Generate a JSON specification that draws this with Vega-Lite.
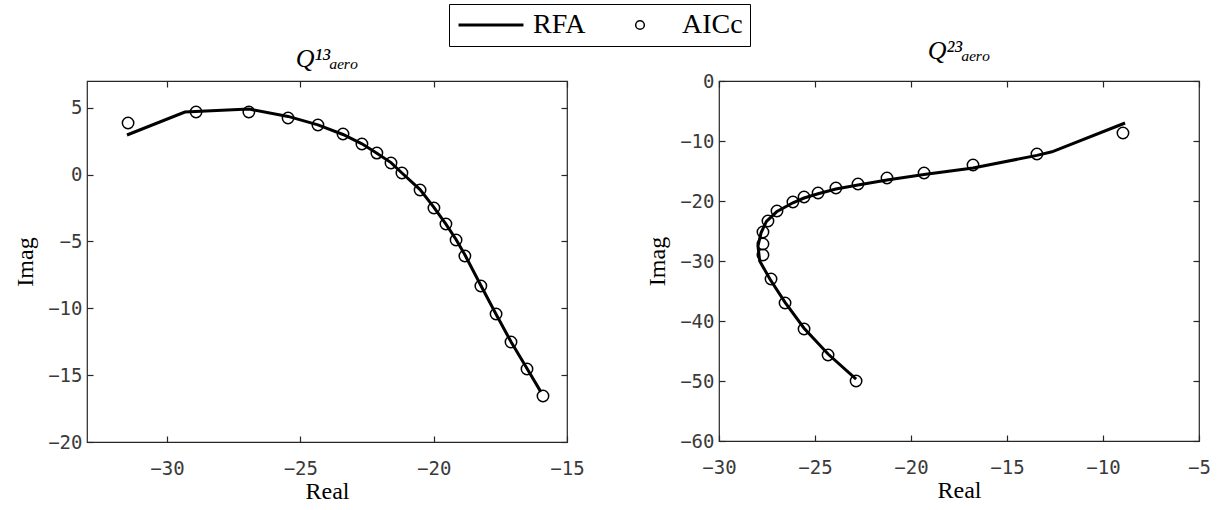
{
  "$schema": "https://vega.github.io/schema/vega-lite/v6.json",
  "background": "white",
  "padding": {"left": 13, "top": 3, "right": 0, "bottom": 0},
  "spacing": 152,
  "bounds": "flush",
  "data": {"values": [
    {"panel": "L", "kind": "RFA", "i": 1, "re": -31.5, "im": 2.96},
    {"panel": "L", "kind": "RFA", "i": 2, "re": -29.33, "im": 4.68},
    {"panel": "L", "kind": "RFA", "i": 3, "re": -26.93, "im": 4.9},
    {"panel": "L", "kind": "RFA", "i": 4, "re": -25.46, "im": 4.35},
    {"panel": "L", "kind": "RFA", "i": 5, "re": -24.34, "im": 3.72},
    {"panel": "L", "kind": "RFA", "i": 6, "re": -23.4, "im": 3.0},
    {"panel": "L", "kind": "RFA", "i": 7, "re": -22.69, "im": 2.3},
    {"panel": "L", "kind": "RFA", "i": 8, "re": -22.13, "im": 1.6},
    {"panel": "L", "kind": "RFA", "i": 9, "re": -21.6, "im": 0.9},
    {"panel": "L", "kind": "RFA", "i": 10, "re": -21.19, "im": 0.12},
    {"panel": "L", "kind": "RFA", "i": 11, "re": -20.51, "im": -1.12},
    {"panel": "L", "kind": "RFA", "i": 12, "re": -19.99, "im": -2.45},
    {"panel": "L", "kind": "RFA", "i": 13, "re": -19.54, "im": -3.7},
    {"panel": "L", "kind": "RFA", "i": 14, "re": -19.16, "im": -4.85},
    {"panel": "L", "kind": "RFA", "i": 15, "re": -18.83, "im": -6.0},
    {"panel": "L", "kind": "RFA", "i": 16, "re": -18.23, "im": -8.3},
    {"panel": "L", "kind": "RFA", "i": 17, "re": -17.66, "im": -10.45},
    {"panel": "L", "kind": "RFA", "i": 18, "re": -17.1, "im": -12.5},
    {"panel": "L", "kind": "RFA", "i": 19, "re": -16.5, "im": -14.5},
    {"panel": "L", "kind": "RFA", "i": 20, "re": -15.98, "im": -16.25},
    {"panel": "L", "kind": "AICc", "i": 1, "re": -31.46, "im": 3.86},
    {"panel": "L", "kind": "AICc", "i": 2, "re": -28.91, "im": 4.68},
    {"panel": "L", "kind": "AICc", "i": 3, "re": -26.93, "im": 4.68},
    {"panel": "L", "kind": "AICc", "i": 4, "re": -25.46, "im": 4.23},
    {"panel": "L", "kind": "AICc", "i": 5, "re": -24.34, "im": 3.71},
    {"panel": "L", "kind": "AICc", "i": 6, "re": -23.4, "im": 3.04},
    {"panel": "L", "kind": "AICc", "i": 7, "re": -22.69, "im": 2.29},
    {"panel": "L", "kind": "AICc", "i": 8, "re": -22.13, "im": 1.61},
    {"panel": "L", "kind": "AICc", "i": 9, "re": -21.6, "im": 0.87},
    {"panel": "L", "kind": "AICc", "i": 10, "re": -21.19, "im": 0.12},
    {"panel": "L", "kind": "AICc", "i": 11, "re": -20.51, "im": -1.15},
    {"panel": "L", "kind": "AICc", "i": 12, "re": -19.99, "im": -2.5},
    {"panel": "L", "kind": "AICc", "i": 13, "re": -19.54, "im": -3.7},
    {"panel": "L", "kind": "AICc", "i": 14, "re": -19.16, "im": -4.89},
    {"panel": "L", "kind": "AICc", "i": 15, "re": -18.83, "im": -6.09},
    {"panel": "L", "kind": "AICc", "i": 16, "re": -18.23, "im": -8.33},
    {"panel": "L", "kind": "AICc", "i": 17, "re": -17.66, "im": -10.43},
    {"panel": "L", "kind": "AICc", "i": 18, "re": -17.1, "im": -12.52},
    {"panel": "L", "kind": "AICc", "i": 19, "re": -16.5, "im": -14.54},
    {"panel": "L", "kind": "AICc", "i": 20, "re": -15.9, "im": -16.56},
    {"panel": "R", "kind": "RFA", "i": 1, "re": -22.86, "im": -49.7},
    {"panel": "R", "kind": "RFA", "i": 2, "re": -24.32, "im": -45.5},
    {"panel": "R", "kind": "RFA", "i": 3, "re": -25.57, "im": -41.2},
    {"panel": "R", "kind": "RFA", "i": 4, "re": -26.56, "im": -36.9},
    {"panel": "R", "kind": "RFA", "i": 5, "re": -27.35, "im": -33.0},
    {"panel": "R", "kind": "RFA", "i": 6, "re": -27.88, "im": -30.0},
    {"panel": "R", "kind": "RFA", "i": 7, "re": -27.97, "im": -27.5},
    {"panel": "R", "kind": "RFA", "i": 8, "re": -27.81, "im": -25.3},
    {"panel": "R", "kind": "RFA", "i": 9, "re": -27.53, "im": -23.4},
    {"panel": "R", "kind": "RFA", "i": 10, "re": -27.0, "im": -21.8},
    {"panel": "R", "kind": "RFA", "i": 11, "re": -26.15, "im": -20.3},
    {"panel": "R", "kind": "RFA", "i": 12, "re": -25.57, "im": -19.5},
    {"panel": "R", "kind": "RFA", "i": 13, "re": -24.84, "im": -18.8},
    {"panel": "R", "kind": "RFA", "i": 14, "re": -23.91, "im": -18.0},
    {"panel": "R", "kind": "RFA", "i": 15, "re": -22.76, "im": -17.35},
    {"panel": "R", "kind": "RFA", "i": 16, "re": -21.25, "im": -16.5},
    {"panel": "R", "kind": "RFA", "i": 17, "re": -19.32, "im": -15.6},
    {"panel": "R", "kind": "RFA", "i": 18, "re": -16.77, "im": -14.5},
    {"panel": "R", "kind": "RFA", "i": 19, "re": -13.44, "im": -12.4},
    {"panel": "R", "kind": "RFA", "i": 20, "re": -12.66, "im": -11.8},
    {"panel": "R", "kind": "RFA", "i": 21, "re": -8.85, "im": -7.0},
    {"panel": "R", "kind": "AICc", "i": 1, "re": -22.86, "im": -50.0},
    {"panel": "R", "kind": "AICc", "i": 2, "re": -24.32, "im": -45.67},
    {"panel": "R", "kind": "AICc", "i": 3, "re": -25.57, "im": -41.33},
    {"panel": "R", "kind": "AICc", "i": 4, "re": -26.56, "im": -37.0},
    {"panel": "R", "kind": "AICc", "i": 5, "re": -27.29, "im": -33.0},
    {"panel": "R", "kind": "AICc", "i": 6, "re": -27.71, "im": -29.0},
    {"panel": "R", "kind": "AICc", "i": 7, "re": -27.71, "im": -27.17},
    {"panel": "R", "kind": "AICc", "i": 8, "re": -27.71, "im": -25.17},
    {"panel": "R", "kind": "AICc", "i": 9, "re": -27.45, "im": -23.33},
    {"panel": "R", "kind": "AICc", "i": 10, "re": -26.98, "im": -21.67},
    {"panel": "R", "kind": "AICc", "i": 11, "re": -26.15, "im": -20.17},
    {"panel": "R", "kind": "AICc", "i": 12, "re": -25.57, "im": -19.33},
    {"panel": "R", "kind": "AICc", "i": 13, "re": -24.84, "im": -18.67},
    {"panel": "R", "kind": "AICc", "i": 14, "re": -23.91, "im": -17.83},
    {"panel": "R", "kind": "AICc", "i": 15, "re": -22.76, "im": -17.17},
    {"panel": "R", "kind": "AICc", "i": 16, "re": -21.25, "im": -16.17},
    {"panel": "R", "kind": "AICc", "i": 17, "re": -19.32, "im": -15.33},
    {"panel": "R", "kind": "AICc", "i": 18, "re": -16.77, "im": -14.0},
    {"panel": "R", "kind": "AICc", "i": 19, "re": -13.44, "im": -12.17},
    {"panel": "R", "kind": "AICc", "i": 20, "re": -8.96, "im": -8.67}
  ]},
  "hconcat": [
    {
      "width": 480,
      "height": 361,
      "title": "Q¹³ₐₑᵣₒ",
      "layer": [
        {
          "transform": [{"filter": "datum.panel === 'L' && datum.kind === 'RFA'"}],
          "mark": {"type": "line", "color": "black", "strokeWidth": 3},
          "encoding": {
            "x": {"field": "re", "type": "quantitative", "scale": {"domain": [-33, -15], "nice": false, "zero": false}, "axis": {"title": "Real", "ticks": false, "values": [-30, -25, -20, -15]}},
            "y": {"field": "im", "type": "quantitative", "scale": {"domain": [-20, 7], "nice": false, "zero": false}, "axis": {"title": "Imag", "ticks": false, "values": [-20, -15, -10, -5, 0, 5]}},
            "order": {"field": "i", "type": "quantitative"}
          }
        },
        {
          "transform": [{"filter": "datum.panel === 'L' && datum.kind === 'AICc'"}],
          "mark": {"type": "point", "filled": false, "size": 130, "color": "black", "opacity": 1},
          "encoding": {
            "x": {"field": "re", "type": "quantitative", "scale": {"domain": [-33, -15], "nice": false, "zero": false}, "axis": {"orient": "top", "title": null, "labels": false, "values": [-30, -25, -20, -15]}},
            "y": {"field": "im", "type": "quantitative", "scale": {"domain": [-20, 7], "nice": false, "zero": false}, "axis": {"orient": "right", "title": null, "labels": false, "values": [-20, -15, -10, -5, 0, 5]}},
            "shape": {"field": "kind", "type": "ordinal", "scale": {"domain": ["RFA", "AICc"], "range": ["M-7.5,0H7.5", "circle"]}, "legend": {"title": null}},
            "strokeWidth": {"field": "kind", "type": "ordinal", "scale": {"domain": ["RFA", "AICc"], "range": [3, 1.5]}, "legend": {"title": null}}
          }
        },
        {
          "transform": [{"filter": "datum.panel === 'L' && datum.kind === 'AICc'"}],
          "mark": {"type": "point", "opacity": 0},
          "encoding": {
            "x": {"field": "re", "type": "quantitative", "scale": {"domain": [-33, -15], "nice": false, "zero": false}, "axis": {"orient": "bottom", "title": null, "labels": false, "values": [-30, -25, -20, -15]}},
            "y": {"field": "im", "type": "quantitative", "scale": {"domain": [-20, 7], "nice": false, "zero": false}, "axis": {"orient": "left", "title": null, "labels": false, "values": [-20, -15, -10, -5, 0, 5]}}
          }
        }
      ],
      "resolve": {"axis": {"x": "independent", "y": "independent"}}
    },
    {
      "width": 480,
      "height": 360,
      "title": "Q²³ₐₑᵣₒ",
      "layer": [
        {
          "transform": [{"filter": "datum.panel === 'R' && datum.kind === 'RFA'"}],
          "mark": {"type": "line", "color": "black", "strokeWidth": 3},
          "encoding": {
            "x": {"field": "re", "type": "quantitative", "scale": {"domain": [-30, -5], "nice": false, "zero": false}, "axis": {"title": "Real", "ticks": false, "values": [-30, -25, -20, -15, -10, -5]}},
            "y": {"field": "im", "type": "quantitative", "scale": {"domain": [-60, 0], "nice": false, "zero": false}, "axis": {"title": "Imag", "ticks": false, "values": [-60, -50, -40, -30, -20, -10, 0]}},
            "order": {"field": "i", "type": "quantitative"}
          }
        },
        {
          "transform": [{"filter": "datum.panel === 'R' && datum.kind === 'AICc'"}],
          "mark": {"type": "point", "filled": false, "size": 130, "color": "black", "opacity": 1},
          "encoding": {
            "x": {"field": "re", "type": "quantitative", "scale": {"domain": [-30, -5], "nice": false, "zero": false}, "axis": {"orient": "top", "title": null, "labels": false, "values": [-30, -25, -20, -15, -10, -5]}},
            "y": {"field": "im", "type": "quantitative", "scale": {"domain": [-60, 0], "nice": false, "zero": false}, "axis": {"orient": "right", "title": null, "labels": false, "values": [-60, -50, -40, -30, -20, -10, 0]}},
            "shape": {"field": "kind", "type": "ordinal", "scale": {"domain": ["RFA", "AICc"], "range": ["M-7.5,0H7.5", "circle"]}, "legend": {"title": null}},
            "strokeWidth": {"field": "kind", "type": "ordinal", "scale": {"domain": ["RFA", "AICc"], "range": [3, 1.5]}, "legend": {"title": null}}
          }
        },
        {
          "transform": [{"filter": "datum.panel === 'R' && datum.kind === 'AICc'"}],
          "mark": {"type": "point", "opacity": 0},
          "encoding": {
            "x": {"field": "re", "type": "quantitative", "scale": {"domain": [-30, -5], "nice": false, "zero": false}, "axis": {"orient": "bottom", "title": null, "labels": false, "values": [-30, -25, -20, -15, -10, -5]}},
            "y": {"field": "im", "type": "quantitative", "scale": {"domain": [-60, 0], "nice": false, "zero": false}, "axis": {"orient": "left", "title": null, "labels": false, "values": [-60, -50, -40, -30, -20, -10, 0]}}
          }
        }
      ],
      "resolve": {"axis": {"x": "independent", "y": "independent"}}
    }
  ],
  "config": {
    "view": {"stroke": "#262626", "strokeWidth": 1.2},
    "axis": {
      "grid": false,
      "domain": false,
      "zindex": 1,
      "offset": -6,
      "tickColor": "#262626",
      "tickOpacity": 1,
      "tickWidth": 1.2,
      "tickSize": 6,
      "labelFont": "DejaVu Sans Mono",
      "labelFontSize": 19,
      "labelColor": "#3a3a3a",
      "labelFlush": false,
      "labelOverlap": false,
      "labelBound": false,
      "titleFont": "Liberation Serif",
      "titleFontWeight": "normal",
      "titleFontSize": 24,
      "titleColor": "black"
    },
    "axisX": {"labelPadding": 23, "titlePadding": 1},
    "axisY": {"labelPadding": 11, "titlePadding": 10},
    "title": {"font": "Liberation Serif", "fontStyle": "italic", "fontWeight": "normal", "fontSize": 26, "offset": 8, "color": "black"},
    "legend": {
      "orient": "none",
      "legendX": 362,
      "legendY": -77,
      "direction": "horizontal",
      "strokeColor": "black",
      "fillColor": "white",
      "padding": 7,
      "labelFont": "Liberation Serif",
      "labelFontSize": 28,
      "labelColor": "black",
      "labelOffset": 28,
      "columnPadding": 19,
      "symbolSize": 75,
      "symbolOffset": 21,
      "symbolStrokeColor": "black",
      "symbolFillColor": "transparent"
    }
  }
}
